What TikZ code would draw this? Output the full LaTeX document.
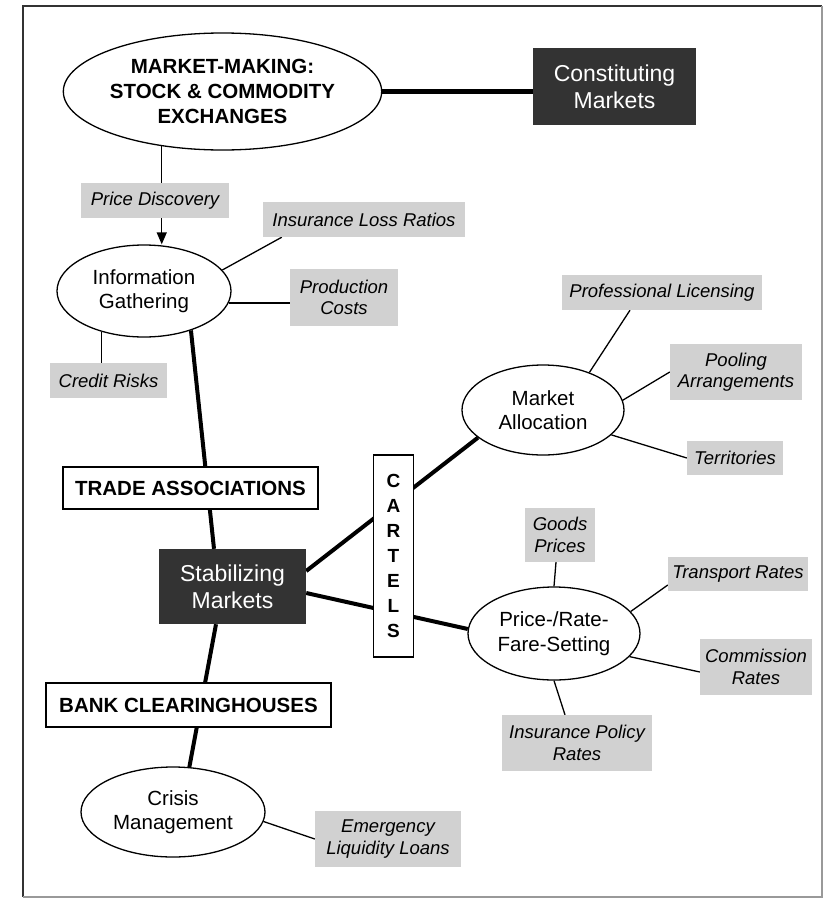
\documentclass[tikz,border=0pt]{standalone}
\usepackage{fontspec}
\setmainfont{Liberation Sans}
\usetikzlibrary{shapes.geometric,arrows.meta,calc}
\pgfdeclarelayer{bg}
\pgfsetlayers{bg,main}
\begin{document}
\begin{tikzpicture}[x=1pt,y=-1pt,
  sz/.style 2 args={minimum width=#1pt, minimum height=#2pt},
  oval/.style={ellipse, draw, line width=1.3pt, fill=white, inner sep=0pt, align=center, font=\fontsize{20.5}{24.5}\selectfont},
  darkbox/.style={rectangle, fill=black!80, text=white, inner sep=0pt, align=center, font=\fontsize{23}{27}\selectfont},
  capbox/.style={rectangle, draw, line width=1.3pt, fill=white, inner sep=0pt, align=center, font=\bfseries\fontsize{20.5}{25}\selectfont},
  tag/.style={rectangle, fill=black!18, inner sep=0pt, align=center, font=\itshape\fontsize{18.5}{21.5}\selectfont},
  thinline/.style={line width=1.3pt},
  heavy/.style={line width=4pt}]
\useasboundingbox (0,0) rectangle (824,900);
% frame
\draw[line width=1.6pt, black!80] (23,897) -- (23,6) -- (822,6);
\draw[line width=1.4pt, black!40] (822,6) -- (822,897) -- (23,897);

% nodes
\node[oval, sz={295}{117}, font=\bfseries\fontsize{20.5}{25}\selectfont] (mm) at (222.5,91.5) {MARKET-MAKING:\\STOCK \& COMMODITY\\EXCHANGES};
\node[darkbox, sz={163}{77}] (cm) at (614.5,86.5) {Constituting\\Markets};
\node[tag, sz={148}{35}] (pd) at (155,200.5) {Price Discovery};
\node[tag, sz={202}{35}] (ilr) at (364,219.5) {Insurance Loss Ratios};
\node[oval, sz={174}{92}] (ig) at (144,291) {Information\\Gathering};
\node[tag, sz={108}{57}] (pc) at (344,297.5) {Production\\Costs};
\node[tag, sz={200}{35}] (pl) at (662,292.5) {Professional Licensing};
\node[tag, sz={117}{35}] (cr) at (108.5,380.5) {Credit Risks};
\node[capbox, sz={255}{42}] (ta) at (190.5,488) {TRADE ASSOCIATIONS};
\node[darkbox, sz={147}{75}] (sm) at (232.5,586.5) {Stabilizing\\Markets};
\node[capbox, sz={40}{202}, font=\bfseries\fontsize{19}{25}\selectfont] (ca) at (393.5,556) {C\\A\\R\\T\\E\\L\\S};
\node[oval, sz={162}{90}] (ma) at (543,410) {Market\\Allocation};
\node[tag, sz={132}{56}] (pa) at (736,372) {Pooling\\Arrangements};
\node[tag, sz={96}{34}] (te) at (735,458) {Territories};
\node[tag, sz={70}{54}] (gp) at (560,535) {Goods\\Prices};
\node[tag, sz={140}{34}] (tr) at (738,574) {Transport Rates};
\node[oval, sz={172}{93}] (pr) at (554,633.5) {Price-/Rate-\\Fare-Setting};
\node[tag, sz={112}{56}] (cmr) at (756,667) {Commission\\Rates};
\node[tag, sz={150}{56}] (ipr) at (577,743) {Insurance Policy\\Rates};
\node[capbox, sz={285}{44}] (bc) at (188.5,705) {BANK CLEARINGHOUSES};
\node[oval, sz={184}{90}] (crm) at (173,812) {Crisis\\Management};
\node[tag, sz={146}{56}] (el) at (388,839) {Emergency\\Liquidity Loans};

% connectors
\begin{pgfonlayer}{bg}
\draw[heavy, line width=4.5pt] (mm.east) -- (mm.east -| cm.west);
\draw[thinline,-{Triangle[length=12pt,width=10pt]}] (mm.222) -- (mm.222 |- ig.north);
\draw[thinline] (ig.15) -- ($(ilr.south west)+(19,0)$);
\draw[thinline] (ig.352) -- (ig.352 -| pc.west);
\draw[thinline] (ig.224) -- (ig.224 |- cr.north);
\draw[heavy] (ig.320) -- ($(sm.north)+(-18.5,0)$);
\draw[heavy] ($(sm.south)+(-16.5,0)$) -- (crm.70);
\draw[heavy] ($(sm.east)+(0,-15.5)$) -- (ma.203);
\draw[heavy] ($(sm.east)+(0,6.5)$) -- (pr.177);
\draw[thinline] (ma.39) -- ($(pl.south)+(-32,0)$);
\draw[thinline] (ma.7) -- (pa.west);
\draw[thinline] (ma.340) -- (te.west);
\draw[thinline] ($(gp.south)+(-4,0)$) -- (pr.north);
\draw[thinline] (pr.16) -- ($(tr.west)+(0,11)$);
\draw[thinline] (pr.343) -- ($(cmr.west)+(0,5)$);
\draw[thinline] (pr.south) -- ($(ipr.north)+(-12,0)$);
\draw[thinline] (crm.354) -- (el.west);
\end{pgfonlayer}
\end{tikzpicture}
\end{document}
